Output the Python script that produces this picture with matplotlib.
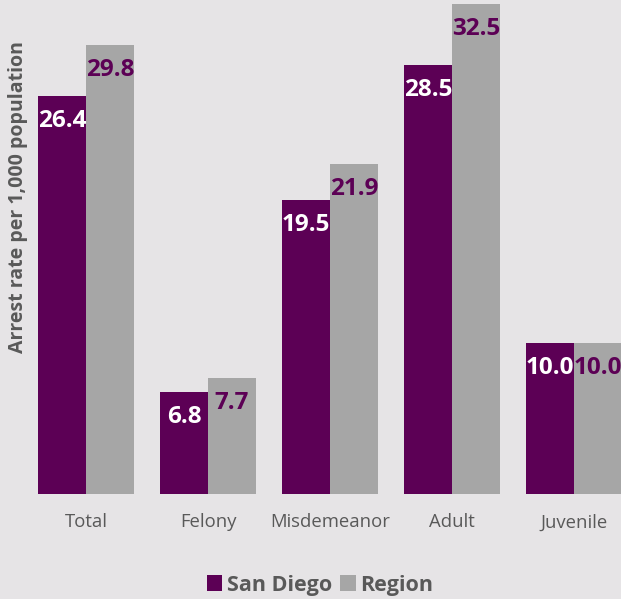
import matplotlib.pyplot as plt
import numpy as np

categories = ["Total", "Felony", "Misdemeanor", "Adult", "Juvenile"]
san_diego = [26.4, 6.8, 19.5, 28.5, 10.0]
region = [29.8, 7.7, 21.9, 32.5, 10.0]
series_names = ["San Diego", "Region"]

purple = "#5c0055"
grey = "#a6a6a6"
bg = "#e6e4e6"
text_grey = "#595959"

plt.rcParams['font.family'] = ['Open Sans', 'DejaVu Sans']

fig = plt.figure(figsize=(6.21, 5.99), dpi=100, facecolor=bg)
ax = fig.add_axes([0, 105 / 599, 1, 494 / 599])
ax.set_facecolor(bg)

x = np.arange(len(categories))
w = 0.39
b1 = ax.bar(x - w / 2, san_diego, w, color=purple, label=series_names[0])
b2 = ax.bar(x + w / 2, region, w, color=grey, label=series_names[1])

ax.set_xlim(-0.705, 4.385)
ax.set_ylim(0, 494 / 15.07)

# value labels just inside the top of each bar
for bars, vals, col in [(b1, san_diego, "white"), (b2, region, purple)]:
    for rect, v in zip(bars, vals):
        ax.annotate(f"{v:.1f}", (rect.get_x() + rect.get_width() / 2, v),
                    xytext=(0, -25), textcoords="offset pixels",
                    ha="center", va="center", color=col,
                    fontsize=17.5, fontweight="bold")

for s in ax.spines.values():
    s.set_visible(False)
ax.set_yticks([])
ax.set_xticks(x)
ax.set_xticklabels(categories, fontsize=13.3, color=text_grey)
ax.tick_params(axis="x", length=0, pad=14)

fig.text(0.029, 1 - 197 / 599, "Arrest rate per 1,000 population", rotation=90,
         ha="center", va="center", fontsize=14, fontweight="bold",
         color=text_grey)

fig.legend(handles=[b1, b2], loc="center", bbox_to_anchor=(320 / 621, 1 - 585 / 599),
           ncol=2, frameon=False, handlelength=0.7,
           handleheight=0.7, handletextpad=0.2, columnspacing=0.4,
           labelcolor=text_grey, prop={'weight': 'bold', 'size': 15.5})

fig.savefig("out.png", dpi=100, facecolor=bg)
